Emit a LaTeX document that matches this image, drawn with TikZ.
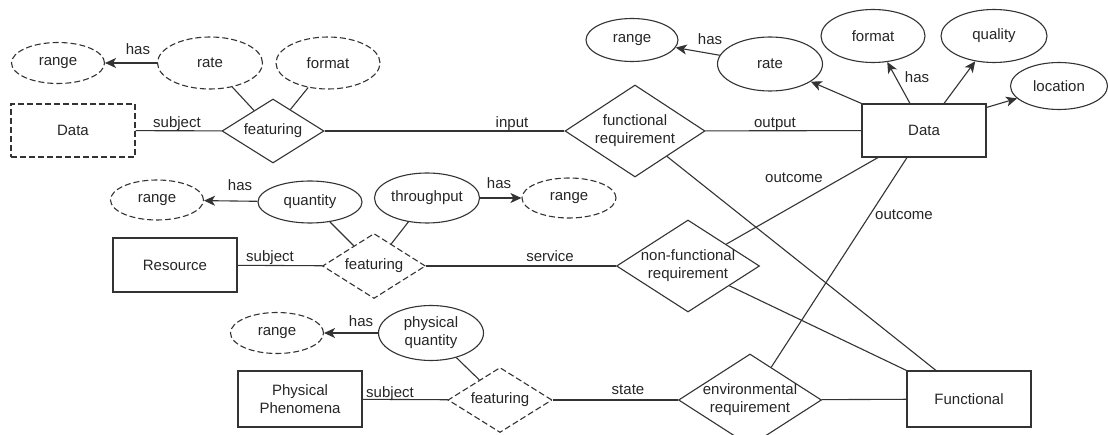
\documentclass[tikz,border=0pt]{standalone}
\usepackage{fontspec}
\setmainfont{Liberation Sans}
\usetikzlibrary{shapes.geometric,arrows.meta}
\begin{document}
\begin{tikzpicture}[x=1pt,y=-1pt,
  every node/.style={font=\fontsize{15}{18}\selectfont, text=black!85},
  base/.style={draw=black!80, line width=1.1pt},
  dsh/.style={dash pattern=on 6pt off 3pt},
  ent/.style={base, rectangle, minimum width=124pt, minimum height=53pt, inner sep=0pt, align=center},
  attr/.style={base, ellipse, minimum width=104pt, minimum height=52pt, inner sep=0pt, align=center},
  rel/.style={base, diamond, minimum width=104pt, minimum height=65pt, inner sep=0pt},
  bigrel/.style={rel, minimum width=142pt, minimum height=92pt},
  inside/.style={draw=none, align=center, inner sep=0pt},
  lbl/.style={anchor=base, inner sep=0pt},
  conn/.style={draw=black!80, line width=1.1pt},
  arr/.style={conn, -{Stealth[length=11pt,width=10pt,inset=3pt]}},
]
\fill[white] (0,0) rectangle (1108,435);
\useasboundingbox (0,0) rectangle (1108,435);

% ---------- top left ----------
\node[attr, dsh, minimum width=93pt, minimum height=41pt] (rangeA) at (58,63) {range};
\node[attr, dsh, minimum width=105pt] (rateA) at (210,63) {rate};
\node[attr, dsh] (formatA) at (328,63) {format};
\node[ent, dsh] (dataA) at (73,130.5) {Data};
\node[rel, minimum width=102pt, minimum height=64pt, label={[inside]center:featuring}] (featA) at (273,131) {};

% ---------- top right ----------
\node[bigrel, minimum width=140pt, label={[inside]center:functional\\requirement}] (funcreq) at (635,131) {};
\node[attr, minimum width=92pt, minimum height=43pt] (rangeB) at (632,40) {range};
\node[attr, minimum width=105pt, minimum height=54pt] (rateB) at (770,64) {rate};
\node[attr, minimum height=53pt] (formatB) at (873,36) {format};
\node[attr, minimum width=106pt, minimum height=53pt] (quality) at (994,36) {quality};
\node[attr, minimum width=97pt, minimum height=47pt] (location) at (1059,86) {location};
\node[ent] (dataB) at (924,130.5) {Data};

% ---------- middle ----------
\node[attr, dsh, minimum width=93pt, minimum height=40pt] (rangeM) at (157,200) {range};
\node[attr, minimum height=42pt] (quantity) at (310,202) {quantity};
\node[ent, minimum height=54pt] (resource) at (175,265) {Resource};
\node[rel, dsh, minimum width=103pt, label={[inside]center:featuring}] (featM) at (374,266) {};
\node[attr, minimum width=105pt, minimum height=50pt] (throughput) at (427,198) {throughput};
\node[attr, dsh, minimum width=94pt, minimum height=40pt] (rangeT) at (569,198) {range};
\node[bigrel, minimum width=143pt, label={[inside]center:non-functional\\requirement}] (nonfunc) at (688,266) {};

% ---------- bottom ----------
\node[attr, dsh, minimum width=93pt, minimum height=41pt] (rangeP) at (277,333) {range};
\node[attr, minimum width=105pt, minimum height=55pt] (physq) at (431,333) {physical\\quantity};
\node[ent, minimum height=56pt] (pp) at (300,399) {Physical\\Phenomena};
\node[rel, dsh, label={[inside]center:featuring}] (featB) at (500,400) {};
\node[bigrel, minimum width=143pt, label={[inside]center:environmental\\requirement}] (env) at (750,400) {};
\node[ent, minimum height=56pt] (func) at (969,399) {Functional};

% ---------- connectors ----------
\draw[arr] (rateA) -- (rangeA);
\draw[conn] (rateA) -- (featA);
\draw[conn] (formatA) -- (featA);
\draw[conn] (dataA) -- (featA);
\draw[conn] (featA) -- (funcreq);
\draw[conn] (funcreq) -- (dataB);

\draw[arr] (rateB) -- (rangeB);
\draw[arr] (dataB.north west) -- (rateB);
\draw[arr] ([xshift=-14pt]dataB.north) -- (formatB);
\draw[arr] ([xshift=20pt]dataB.north) -- (quality);
\draw[arr] ([yshift=-4pt]dataB.north east) -- (location);

\draw[arr] (quantity) -- (rangeM);
\draw[arr] (throughput) -- (rangeT);
\draw[conn] (quantity) -- (featM);
\draw[conn] (throughput) -- (featM);
\draw[conn] (resource) -- (featM);
\draw[conn] (featM) -- (nonfunc);

\draw[arr] (physq) -- (rangeP);
\draw[conn] (physq) -- (featB);
\draw[conn] (pp) -- (featB);
\draw[conn] (featB) -- (env);
\draw[conn] (env) -- (func);

\draw[conn] (nonfunc) -- ([xshift=-46pt]dataB.south);
\draw[conn] (env) -- ([xshift=-17pt]dataB.south);
\draw[conn] (funcreq) -- ([xshift=-33pt]func.north);
\draw[conn] (nonfunc) -- (func.north west);

% ---------- labels ----------
\node[lbl] (l1) at (138,55) {has};
\node[lbl] (l2) at (177,128) {subject};
\node[lbl] (l3) at (512,128) {input};
\node[lbl] (l4) at (775,128) {output};
\node[lbl] (l5) at (710,45) {has};
\node[lbl] (l6) at (917,83) {has};
\node[lbl] (l7) at (240,191) {has};
\node[lbl] (l8) at (270,262) {subject};
\node[lbl] (l9) at (499,189) {has};
\node[lbl] (l10) at (550,262) {service};
\node[lbl] (l11) at (794,183) {outcome};
\node[lbl] (l12) at (904,220) {outcome};
\node[lbl] (l13) at (361,327) {has};
\node[lbl] (l14) at (390,397) {subject};
\node[lbl] (l15) at (628,395) {state};
\end{tikzpicture}
\end{document}
